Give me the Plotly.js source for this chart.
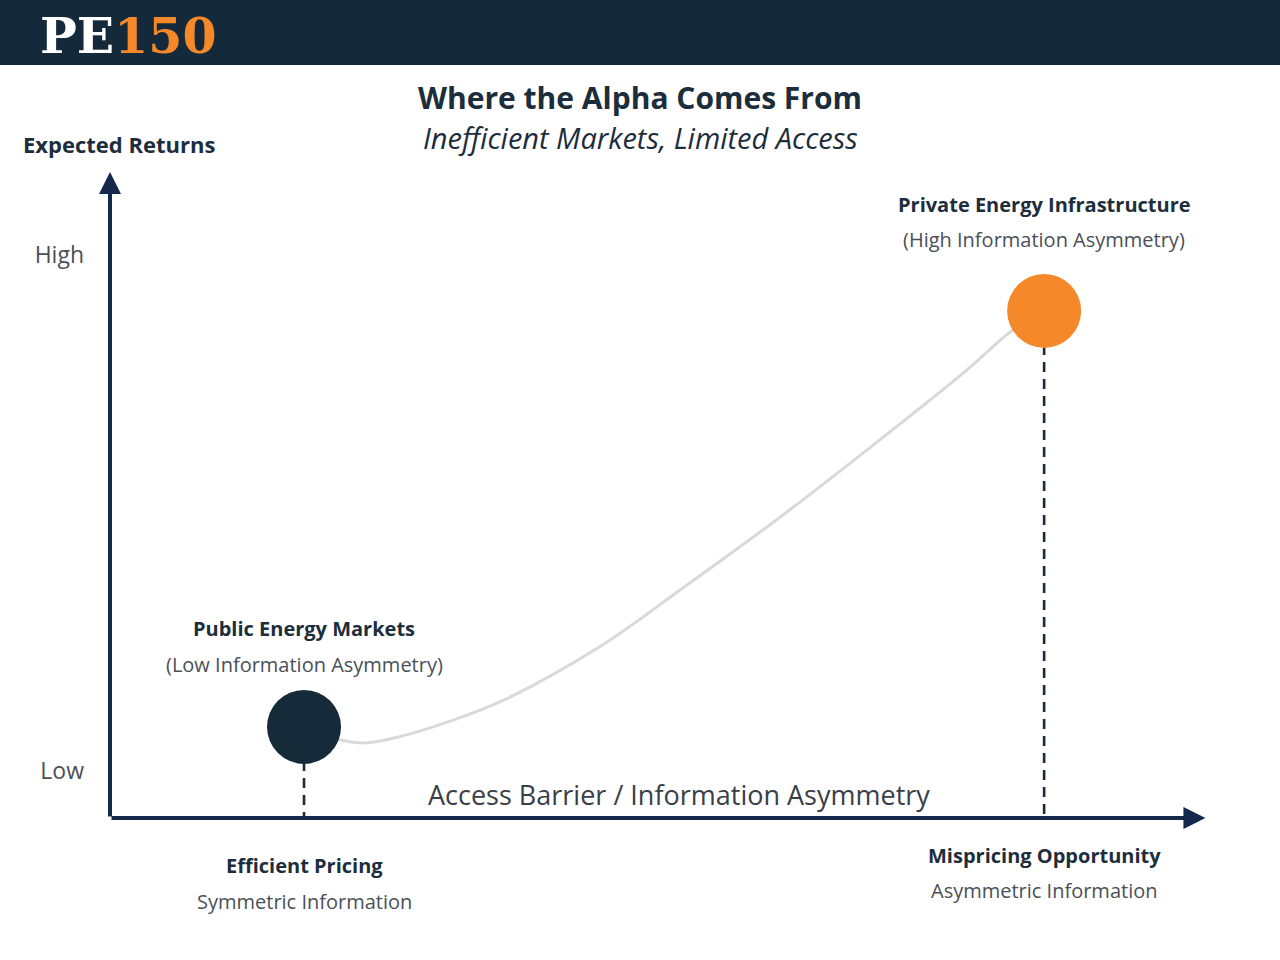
<!DOCTYPE html>
<html>
<head>
<meta charset="utf-8">
<script src="https://cdn.plot.ly/plotly-3.0.1.min.js"></script>
<style>
  html, body { margin: 0; padding: 0; background: #ffffff; }
  #chart { width: 1280px; height: 960px; }
</style>
</head>
<body>
<div id="chart"></div>
<script>
// ---- Data (conceptual scale 0-10 on both axes) ----
const pointNames   = ["Public Energy Markets", "Private Energy Infrastructure"];
const pointSubs    = ["(Low Information Asymmetry)", "(High Information Asymmetry)"];
const pointX       = [1.78, 8.57];
const pointY       = [1.41, 7.85];
const pointColors  = ["#162b3a", "#f5892a"];
const baseLabels   = ["Efficient Pricing", "Mispricing Opportunity"];
const baseSubs     = ["Symmetric Information", "Asymmetric Information"];

// curve
const curveX = [1.78, 2.11, 2.34, 2.66, 3.12, 3.58, 4.50, 5.23, 6.15, 7.06, 7.83, 8.28, 8.57];
const curveY = [1.41, 1.21, 1.16, 1.26, 1.50, 1.80, 2.66, 3.53, 4.66, 5.85, 6.89, 7.55, 7.85];

const yTickVals  = [8.72, 0.73];
const yTickText  = ["High", "Low"];

const FONT = "Open Sans, Noto Sans, sans-serif";
const AXIS_COLOR = "#13284a";
const DARK = "#1c2d3c";
const GREY = "#4a5057";

const traces = [];

// curve
traces.push({
  x: curveX, y: curveY, mode: "lines", type: "scatter",
  line: { color: "#d9d9d9", width: 3, shape: "spline", smoothing: 1 },
  hoverinfo: "skip", showlegend: false
});

// dashed drop lines from points to x-axis
for (let i = 0; i < pointX.length; i++) {
  traces.push({
    x: [pointX[i], pointX[i]], y: [pointY[i], 0], mode: "lines", type: "scatter",
    line: { color: "#1b2b3a", width: 2.6, dash: "10px,7px" },
    hoverinfo: "skip", showlegend: false
  });
}

// points
traces.push({
  x: pointX, y: pointY, mode: "markers", type: "scatter",
  marker: { size: 74, color: pointColors, line: { width: 0 } },
  text: pointNames, hoverinfo: "text", showlegend: false
});

const annotations = [];

// axis arrows
annotations.push({
  x: 10.05, y: 0, ax: 0, ay: 0, xref: "x", yref: "y", axref: "x", ayref: "y",
  showarrow: true, arrowhead: 2, arrowsize: 1.1, arrowwidth: 4, arrowcolor: AXIS_COLOR, text: ""
});
annotations.push({
  x: 0, y: 10, ax: 0, ay: 0, xref: "x", yref: "y", axref: "x", ayref: "y",
  showarrow: true, arrowhead: 2, arrowsize: 1.1, arrowwidth: 4, arrowcolor: AXIS_COLOR, text: ""
});

// point labels
const nameShift = [98, 106];
const subShift  = [62, 71];
for (let i = 0; i < pointX.length; i++) {
  annotations.push({
    x: pointX[i], y: pointY[i], xref: "x", yref: "y", showarrow: false,
    yshift: nameShift[i], text: "<b>" + pointNames[i] + "</b>",
    font: { family: FONT, size: 20, color: DARK }
  });
  annotations.push({
    x: pointX[i], y: pointY[i], xref: "x", yref: "y", showarrow: false,
    yshift: subShift[i], text: pointSubs[i],
    font: { family: FONT, size: 20, color: GREY }
  });
}

// labels under the x-axis
const baseShift = [-47, -37];
const baseSubShift = [-83, -72];
for (let i = 0; i < pointX.length; i++) {
  annotations.push({
    x: pointX[i], y: 0, xref: "x", yref: "y", showarrow: false,
    yshift: baseShift[i], text: "<b>" + baseLabels[i] + "</b>",
    font: { family: FONT, size: 20, color: DARK }
  });
  annotations.push({
    x: pointX[i], y: 0, xref: "x", yref: "y", showarrow: false,
    yshift: baseSubShift[i], text: baseSubs[i],
    font: { family: FONT, size: 20, color: GREY }
  });
}

// x-axis caption inside plot
annotations.push({
  x: 5.22, y: 0.36, xref: "x", yref: "y", showarrow: false,
  text: "Access Barrier / Information Asymmetry",
  font: { family: FONT, size: 27, color: "#3a4047" }
});

// y-axis caption
annotations.push({
  x: -0.0817, y: 1.0433, xref: "paper", yref: "paper", xanchor: "left", yanchor: "middle",
  showarrow: false, text: "<b>Expected Returns</b>",
  font: { family: FONT, size: 22, color: DARK }
});

// subtitle
annotations.push({
  x: (640 - 110) / 1090, y: (818 - 137) / 646, xref: "paper", yref: "paper",
  xanchor: "center", yanchor: "middle",
  showarrow: false, text: "<i>Inefficient Markets, Limited Access</i>",
  font: { family: FONT, size: 29, color: DARK }
});

// logo
annotations.push({
  x: (38 - 110) / 1090, y: (818 - 36) / 646, xref: "paper", yref: "paper",
  xanchor: "left", yanchor: "middle",
  showarrow: false,
  text: "<b><span style='color:#ffffff'>PE</span><span style='color:#f5892a'>150</span></b>",
  font: { family: "DejaVu Serif, Liberation Serif, serif", size: 49, color: "#ffffff" }
});

const layout = {
  width: 1280, height: 960,
  paper_bgcolor: "#ffffff", plot_bgcolor: "rgba(0,0,0,0)",
  margin: { l: 110, r: 80, t: 172, b: 142, pad: 0 },
  title: {
    text: "<b>Where the Alpha Comes From</b>",
    x: 0.5, xref: "container", xanchor: "center",
    y: 1 - 98 / 960, yref: "container", yanchor: "middle",
    font: { family: FONT, size: 30, color: DARK }
  },
  xaxis: {
    range: [0, 10], showgrid: false, zeroline: false, showline: false,
    showticklabels: false, ticks: "", fixedrange: true
  },
  yaxis: {
    range: [0, 10], showgrid: false, zeroline: false, showline: false,
    tickvals: yTickVals, ticktext: yTickText, ticks: "", ticklabelstandoff: 25,
    tickfont: { family: FONT, size: 23, color: GREY }, fixedrange: true
  },
  shapes: [{
    type: "rect", xref: "paper", yref: "paper",
    x0: -0.2, x1: 1.2, y0: (818 - 65) / 646, y1: 1.4,
    fillcolor: "#142a3a", line: { width: 0 }, layer: "below"
  }],
  annotations: annotations,
  showlegend: false,
  hovermode: "closest"
};

Plotly.newPlot("chart", traces, layout, { displayModeBar: false, responsive: false });
</script>
</body>
</html>
